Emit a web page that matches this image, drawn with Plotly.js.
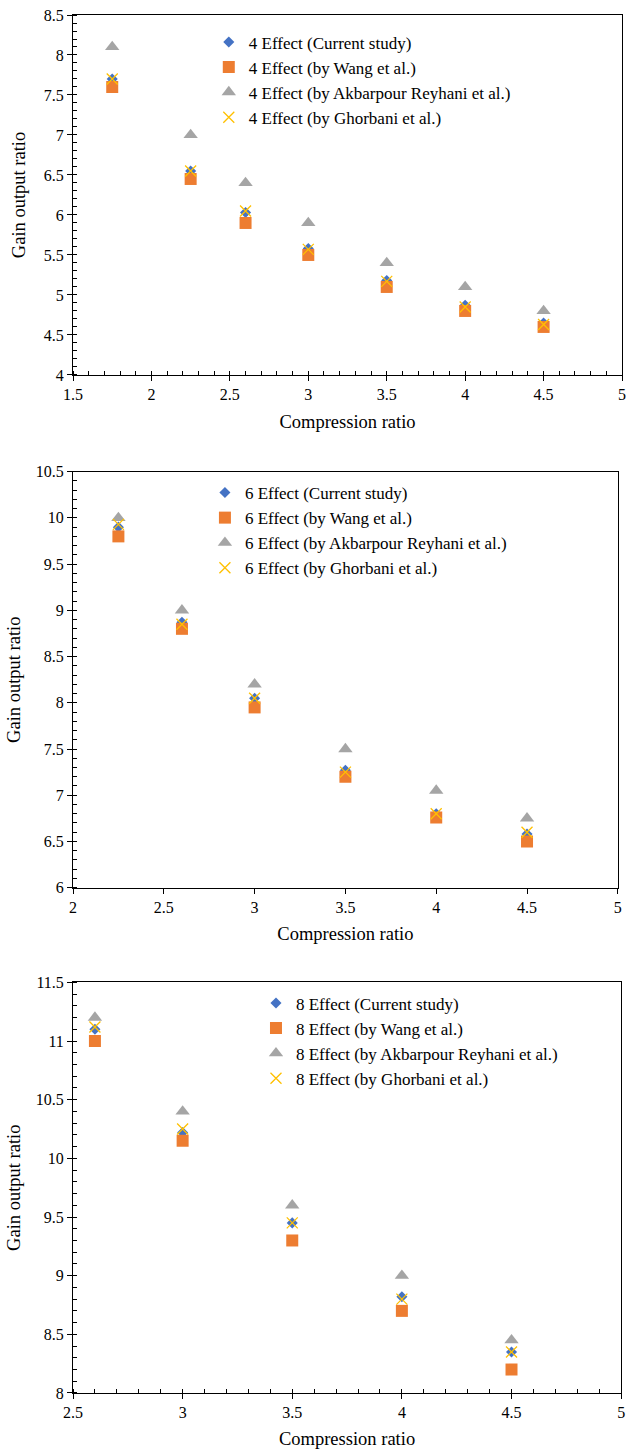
<!DOCTYPE html>
<html>
<head>
<meta charset="utf-8">
<script src="https://cdn.plot.ly/plotly-3.0.1.min.js"></script>
<style>html,body{margin:0;padding:0;background:#fff;}#chart{width:627px;height:1449px;}</style>
</head>
<body>
<div id="chart"></div>
<script>
// ---- Data ----
const x4 = [1.75, 2.25, 2.6, 3, 3.5, 4, 4.5];
const current4 = [7.7, 6.55, 6.03, 5.58, 5.18, 4.87, 4.65];
const wang4 = [7.6, 6.45, 5.9, 5.5, 5.1, 4.8, 4.6];
const akbar4 = [8.1, 7.0, 6.4, 5.9, 5.4, 5.1, 4.8];
const ghorbani4 = [7.7, 6.55, 6.05, 5.57, 5.17, 4.85, 4.63];

const x6 = [2.25, 2.6, 3, 3.5, 4, 4.5];
const current6 = [9.9, 8.87, 8.05, 7.27, 6.8, 6.58];
const wang6 = [9.8, 8.8, 7.95, 7.2, 6.76, 6.5];
const akbar6 = [10.0, 9.0, 8.2, 7.5, 7.05, 6.75];
const ghorbani6 = [9.93, 8.85, 8.05, 7.25, 6.8, 6.6];

const x8 = [2.6, 3, 3.5, 4, 4.5];
const current8 = [11.1, 10.22, 9.45, 8.82, 8.35];
const wang8 = [11.0, 10.15, 9.3, 8.7, 8.2];
const akbar8 = [11.2, 10.4, 9.6, 9.0, 8.45];
const ghorbani8 = [11.12, 10.25, 9.45, 8.8, 8.35];

const seriesNames = ['Effect (Current study)', 'Effect (by Wang et al.)', 'Effect (by Akbarpour Reyhani et al.)', 'Effect (by Ghorbani et al.)'];
const effects = ['4', '6', '8'];

// ---- Styles ----
const styles = [
  {symbol: 'diamond', size: 8.5, color: '#4472C4'},
  {symbol: 'square', size: 12, color: '#ED7D31'},
  {symbol: 'triangle-up', size: 12.5, color: '#A5A5A5'},
  {symbol: 'x-thin-open', size: 11, color: '#FFC000'}
];

const groups = [
  {x: x4, ys: [current4, wang4, akbar4, ghorbani4]},
  {x: x6, ys: [current6, wang6, akbar6, ghorbani6]},
  {x: x8, ys: [current8, wang8, akbar8, ghorbani8]}
];

const traces = [];
groups.forEach((g, gi) => {
  const sfx = gi === 0 ? '' : String(gi + 1);
  g.ys.forEach((y, si) => {
    const st = styles[si];
    const marker = {symbol: st.symbol, size: st.size, color: st.color};
    if (st.symbol === 'x-thin-open') marker.line = {color: st.color, width: 1.3};
    else marker.line = {width: 0};
    traces.push({
      type: 'scatter', mode: 'markers',
      x: g.x, y: y,
      name: effects[gi] + ' ' + seriesNames[si],
      marker: marker,
      xaxis: 'x' + sfx, yaxis: 'y' + sfx,
      legend: 'legend' + sfx,
      legendgroup: 'g' + gi + '_' + si,
      hoverinfo: 'x+y'
    });
  });
});

const font = {family: 'Liberation Serif, Times New Roman, serif', color: '#000', size: 16};

function xax(range, domain, anchor, minor) {
  const a = {
    range: range, dtick: 0.5, tick0: 0, domain: domain, anchor: anchor,
    showline: true, linecolor: '#000', linewidth: 1, mirror: true,
    ticks: 'outside', ticklen: 5, tickcolor: '#000', tickwidth: 1,
    showgrid: false, zeroline: false, automargin: false,
    ticklabeloverflow: 'allow',
    tickfont: {size: 16},
    title: {text: 'Compression ratio', font: {size: 18.5}, standoff: 12}
  };
  if (minor) a.minor = {dtick: 0.1, ticks: 'inside', ticklen: 4, tickcolor: '#000', showgrid: false};
  return a;
}
function yax(range, domain, anchor, standoff) {
  return {
    range: range, dtick: 0.5, tick0: 0, domain: domain, anchor: anchor,
    showline: true, linecolor: '#000', linewidth: 1, mirror: true,
    ticks: 'outside', ticklen: 5, tickcolor: '#000', tickwidth: 1,
    minor: {dtick: 0.1, ticks: 'inside', ticklen: 4, tickcolor: '#000', showgrid: false},
    showgrid: false, zeroline: false, automargin: false,
    ticklabeloverflow: 'allow',
    tickfont: {size: 16},
    title: {text: 'Gain output ratio', font: {size: 18.5}, standoff: standoff}
  };
}
function leg(x, y) {
  return {x: x, y: y, xanchor: 'left', yanchor: 'top', bgcolor: 'rgba(0,0,0,0)',
    font: {size: 17}, traceorder: 'grouped', tracegroupgap: 0, itemwidth: 30};
}

const layout = {
  width: 627, height: 1449,
  margin: {l: 73, r: 2, t: 15, b: 56},
  paper_bgcolor: '#fff', plot_bgcolor: '#fff',
  font: font,
  showlegend: true,
  xaxis: xax([1.5, 5], [0, 0.9946], 'y', true),
  yaxis: yax([4, 8.5], [0.7388, 1], 'x', 13),
  xaxis2: xax([2, 5], [0, 0.987], 'y2', false),
  yaxis2: yax([6, 10.5], [0.3667, 0.6686], 'x2', 10),
  xaxis3: xax([2.5, 5], [0, 0.993], 'y3', true),
  yaxis3: yax([8, 11.5], [0, 0.298], 'x3', 10),
  legend: leg(0.246, 0.9932),
  legend2: leg(0.239, 0.6662),
  legend3: leg(0.3315, 0.2958)
};

Plotly.newPlot('chart', traces, layout, {displayModeBar: false, staticPlot: true});
</script>
</body>
</html>
